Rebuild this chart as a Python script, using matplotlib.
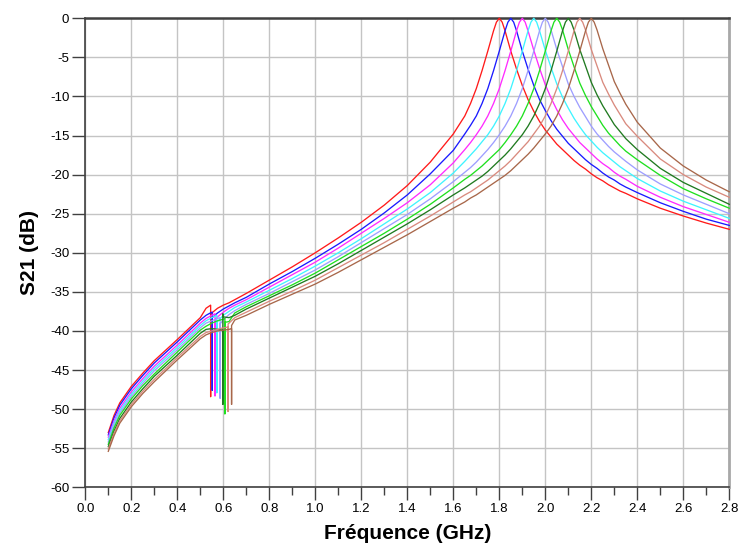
import numpy as np
import matplotlib
matplotlib.use("Agg")
import matplotlib.pyplot as plt
from matplotlib.ticker import MultipleLocator

plt.rcParams['font.family'] = ['Liberation Sans', 'DejaVu Sans']

# shared frequency grid (GHz)
freq = np.array([
    0.1, 0.125, 0.15, 0.2, 0.25, 0.3, 0.4, 0.5,
    0.525, 0.55, 0.575, 0.6, 0.625, 0.65,
    0.7, 0.8, 0.9, 1.0, 1.1, 1.2, 1.3, 1.4, 1.5, 1.6,
    1.65, 1.675, 1.7, 1.725, 1.75, 1.775, 1.8, 1.825, 1.85, 1.875,
    1.9, 1.925, 1.95, 1.975, 2.0, 2.025, 2.05, 2.075, 2.1, 2.125,
    2.15, 2.175, 2.2, 2.225, 2.25, 2.275, 2.3, 2.325, 2.35,
    2.4, 2.5, 2.6, 2.7, 2.8,
])

# S21 (dB) of each resonator on the grid
s21_red = [
    -53.0, -50.8, -49.2, -47.1, -45.4, -43.8, -41.1, -38.3,
    -37.1, -37.7, -37.1, -36.7, -36.4, -36.0,
    -35.2, -33.5, -31.8, -30.0, -28.1, -26.1, -23.9, -21.4, -18.4, -14.8,
    -12.5, -10.9, -9.0, -6.7, -4.2, -1.6, 0.0, -1.6, -4.2, -6.5,
    -8.6, -10.4, -11.9, -13.2, -14.3, -15.2, -16.1, -16.8, -17.5, -18.2,
    -18.8, -19.3, -19.9, -20.4, -20.8, -21.3, -21.7, -22.1, -22.4,
    -23.1, -24.3, -25.3, -26.2, -27.0,
]
s21_blue = [
    -53.3, -51.1, -49.5, -47.4, -45.7, -44.1, -41.4, -38.6,
    -38.0, -37.6, -37.7, -37.2, -36.8, -36.4,
    -35.7, -34.0, -32.4, -30.7, -28.9, -27.0, -24.9, -22.6, -19.9, -16.9,
    -14.8, -13.7, -12.5, -10.9, -9.0, -6.7, -4.2, -1.6, 0.0, -1.6,
    -4.2, -6.5, -8.6, -10.4, -11.8, -13.1, -14.2, -15.1, -16.0, -16.7,
    -17.4, -18.1, -18.7, -19.2, -19.8, -20.3, -20.7, -21.2, -21.6,
    -22.3, -23.6, -24.7, -25.7, -26.5,
]
s21_magenta = [
    -53.6, -51.5, -49.9, -47.8, -46.1, -44.5, -41.8, -39.0,
    -38.4, -38.0, -38.2, -37.6, -37.1, -36.7,
    -36.0, -34.4, -32.8, -31.2, -29.4, -27.5, -25.6, -23.6, -21.3, -18.5,
    -16.8, -15.9, -14.9, -13.8, -12.5, -10.9, -9.0, -6.7, -4.2, -1.6,
    0.0, -1.6, -4.1, -6.4, -8.5, -10.2, -11.7, -13.0, -14.1, -15.0,
    -15.9, -16.6, -17.3, -18.0, -18.6, -19.1, -19.7, -20.2, -20.6,
    -21.5, -22.9, -24.1, -25.1, -26.1,
]
s21_cyan = [
    -53.9, -51.8, -50.2, -48.1, -46.4, -44.8, -42.1, -39.3,
    -38.7, -38.3, -38.8, -38.0, -37.5, -37.0,
    -36.3, -34.8, -33.3, -31.7, -30.0, -28.2, -26.3, -24.4, -22.3, -19.8,
    -18.3, -17.5, -16.7, -15.8, -14.9, -13.8, -12.5, -10.9, -9.0, -6.7,
    -4.2, -1.6, 0.0, -1.6, -4.1, -6.3, -8.4, -10.1, -11.5, -12.8,
    -13.9, -14.9, -15.7, -16.5, -17.2, -17.8, -18.4, -19.0, -19.5,
    -20.5, -22.1, -23.4, -24.5, -25.6,
]
s21_lavender = [
    -54.2, -52.1, -50.5, -48.4, -46.7, -45.1, -42.4, -39.6,
    -39.0, -38.7, -38.4, -38.6, -37.9, -37.4,
    -36.6, -35.2, -33.7, -32.2, -30.5, -28.7, -26.9, -25.1, -23.1, -20.9,
    -19.7, -19.1, -18.4, -17.6, -16.8, -15.9, -14.9, -13.8, -12.5, -10.9,
    -9.0, -6.7, -4.2, -1.6, 0.0, -1.5, -4.0, -6.2, -8.4, -10.0,
    -11.4, -12.6, -13.8, -14.8, -15.6, -16.4, -17.1, -17.7, -18.3,
    -19.4, -21.2, -22.6, -23.8, -25.0,
]
s21_green = [
    -54.5, -52.4, -50.8, -48.7, -47.0, -45.5, -42.7, -39.9,
    -39.4, -39.0, -38.7, -38.5, -38.8, -37.7,
    -36.9, -35.5, -34.1, -32.6, -30.9, -29.2, -27.5, -25.7, -23.8, -21.7,
    -20.6, -20.1, -19.5, -18.9, -18.2, -17.5, -16.8, -15.9, -14.9, -13.8,
    -12.5, -10.9, -9.0, -6.7, -4.2, -1.6, 0.0, -1.5, -4.0, -6.2,
    -8.3, -9.9, -11.3, -12.5, -13.7, -14.7, -15.5, -16.3, -17.0,
    -18.1, -20.1, -21.8, -23.1, -24.3,
]
s21_darkgreen = [
    -54.8, -52.8, -51.2, -49.1, -47.4, -45.8, -43.1, -40.3,
    -39.8, -39.7, -39.8, -38.2, -38.3, -38.0,
    -37.2, -35.8, -34.4, -33.0, -31.4, -29.7, -28.0, -26.3, -24.5, -22.6,
    -21.7, -21.2, -20.7, -20.2, -19.6, -18.9, -18.2, -17.5, -16.7, -15.8,
    -14.9, -13.8, -12.5, -10.9, -9.0, -6.7, -4.2, -1.6, 0.0, -1.5,
    -4.0, -6.1, -8.2, -9.8, -11.2, -12.4, -13.6, -14.5, -15.4,
    -16.8, -19.2, -21.0, -22.4, -23.8,
]
s21_salmon = [
    -55.1, -53.1, -51.5, -49.4, -47.7, -46.2, -43.4, -40.7,
    -40.2, -40.0, -39.8, -39.6, -39.0, -38.3,
    -37.6, -36.2, -34.9, -33.5, -31.9, -30.3, -28.7, -27.0, -25.3, -23.5,
    -22.6, -22.2, -21.7, -21.2, -20.7, -20.1, -19.5, -18.9, -18.2, -17.4,
    -16.6, -15.8, -14.8, -13.8, -12.5, -10.9, -9.0, -6.7, -4.2, -1.6,
    0.0, -1.5, -4.0, -6.1, -8.2, -9.7, -11.1, -12.3, -13.5,
    -15.1, -18.0, -20.0, -21.6, -22.9,
]
s21_brown = [
    -55.4, -53.4, -51.8, -49.7, -48.0, -46.5, -43.7, -41.0,
    -40.5, -40.2, -40.0, -39.9, -39.8, -38.6,
    -38.0, -36.6, -35.3, -34.0, -32.5, -30.9, -29.3, -27.7, -26.0, -24.3,
    -23.5, -23.0, -22.6, -22.1, -21.6, -21.1, -20.6, -20.1, -19.5, -18.8,
    -18.1, -17.4, -16.6, -15.7, -14.8, -13.8, -12.5, -10.9, -9.0, -6.7,
    -4.2, -1.6, 0.0, -1.5, -3.9, -6.0, -8.1, -9.6, -11.0,
    -13.3, -16.6, -18.9, -20.7, -22.2,
]

# resonance peaks: centre frequency and level just either side of the top
peak_freq = [1.80, 1.85, 1.90, 1.95, 2.00, 2.05, 2.10, 2.15, 2.20]
peak_shoulder = [-0.5, -0.5, -0.5, -0.5, -0.5, -0.5, -0.5, -0.5, -0.5]
shoulder_offset = 0.0125

# narrow notch of each curve near 0.55-0.64 GHz
notch_freq = [0.545, 0.552, 0.564, 0.572, 0.586, 0.607, 0.598, 0.621, 0.636]
notch_before = [-36.7, -37.6, -37.8, -38.0, -38.3, -38.4, -39.9, -39.5, -39.7]
notch_depth = [-48.4, -47.6, -48.3, -47.9, -48.6, -50.6, -49.4, -50.3, -49.4]
notch_after = [-37.9, -38.3, -38.6, -38.9, -39.1, -38.9, -37.8, -39.1, -39.3]

curves = [s21_red, s21_blue, s21_magenta, s21_cyan, s21_lavender,
          s21_green, s21_darkgreen, s21_salmon, s21_brown]
colors = ['#ff1a1a', '#1a1aff', '#ff2bff', '#3ff4ff', '#9e9eff',
          '#1fe01f', '#207a20', '#d98a7e', '#a8674a']

fig = plt.figure(figsize=(7.41, 5.45), dpi=100, facecolor='white')
ax = fig.add_axes([0.1151, 0.1059, 0.8691, 0.8606])

for k, vals in enumerate(curves):
    # grid points + notch (down and back up) + the two shoulders of the peak
    f = np.concatenate([freq,
                        [notch_freq[k]] * 3,
                        [peak_freq[k] - shoulder_offset,
                         peak_freq[k] + shoulder_offset]])
    y = np.concatenate([vals,
                        [notch_before[k], notch_depth[k], notch_after[k]],
                        [peak_shoulder[k], peak_shoulder[k]]])
    order = np.argsort(f, kind='stable')
    ax.plot(f[order], y[order], color=colors[k], lw=0.95, zorder=3,
            clip_on=False)

ax.set_xlim(0, 2.8)
ax.set_ylim(-60, 0)

ax.xaxis.set_major_locator(MultipleLocator(0.2))
ax.xaxis.set_minor_locator(MultipleLocator(0.1))
ax.yaxis.set_major_locator(MultipleLocator(5))
ax.xaxis.set_major_formatter(plt.FuncFormatter(lambda v, p: f"{v:.1f}"))
ax.yaxis.set_major_formatter(plt.FuncFormatter(lambda v, p: f"{v:.0f}"))

ax.grid(which='major', color='#c4c4c4', lw=1.0, zorder=0)
ax.set_axisbelow(True)

ax.tick_params(which='major', direction='out', length=9.5, width=1,
               color='#404040', labelsize=9.5, pad=2)
ax.tick_params(which='minor', axis='x', direction='out', length=5.5,
               width=1, color='#404040')
ax.tick_params(axis='y', which='minor', length=0)

for side in ['left', 'bottom', 'top']:
    ax.spines[side].set_color('#404040')
    ax.spines[side].set_linewidth(1.2)
ax.spines['top'].set_linewidth(1.8)
ax.spines['right'].set_color('#a8a8a8')
ax.spines['right'].set_linewidth(2.0)

ax.set_xlabel('Fréquence (GHz)', fontsize=15, fontweight='bold', labelpad=6)
ax.set_ylabel('S21 (dB)', fontsize=15, fontweight='bold', labelpad=8)

fig.savefig('out.png', dpi=100)
